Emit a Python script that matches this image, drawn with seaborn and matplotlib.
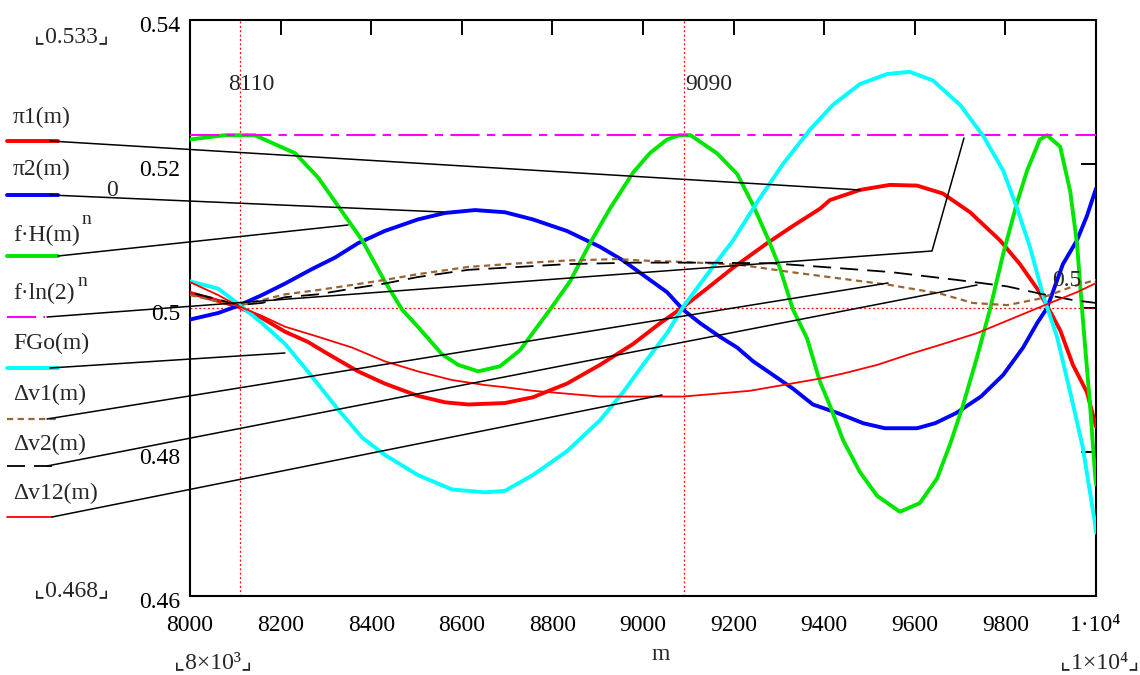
import matplotlib
matplotlib.use("Agg")
import matplotlib.pyplot as plt
import matplotlib.transforms as mtrans
from matplotlib.lines import Line2D
import seaborn as sns

# ---------------- data ----------------
m_pi1 = [8000, 8062, 8106, 8159, 8210, 8260, 8305, 8371, 8430, 8503, 8563, 8614, 8695, 8757,
         8832, 8905, 8978, 9038, 9088, 9141, 9199, 9274, 9331, 9391, 9413, 9479, 9545, 9605,
         9662, 9722, 9788, 9832, 9870, 9892, 9921, 9949, 9980, 9998, 10000]
pi1 = [0.5021, 0.5010, 0.5002, 0.4986, 0.4967, 0.4953, 0.4936, 0.4912, 0.4895, 0.4878, 0.4869,
       0.4866, 0.4868, 0.4876, 0.4895, 0.4921, 0.4950, 0.4979, 0.5001, 0.5027, 0.5056, 0.5090,
       0.5114, 0.5138, 0.5150, 0.5164, 0.5171, 0.5170, 0.5159, 0.5133, 0.5094, 0.5061, 0.5027,
       0.5003, 0.4969, 0.4921, 0.4883, 0.4840, 0.4835]

m_pi2 = [8000, 8062, 8106, 8159, 8210, 8269, 8320, 8371, 8430, 8503, 8563, 8629, 8695, 8757,
         8832, 8905, 8956, 9000, 9053, 9088, 9126, 9170, 9208, 9243, 9287, 9331, 9375, 9430,
         9486, 9534, 9605, 9645, 9691, 9746, 9795, 9839, 9870, 9892, 9927, 9958, 9980, 9998, 10000]
pi2 = [0.4984, 0.4993, 0.5003, 0.5018, 0.5034, 0.5054, 0.5070, 0.5090, 0.5107, 0.5123, 0.5132,
       0.5136, 0.5133, 0.5123, 0.5107, 0.5085, 0.5066, 0.5046, 0.5022, 0.4998, 0.4979, 0.4960,
       0.4945, 0.4926, 0.4907, 0.4888, 0.4866, 0.4854, 0.4840, 0.4833, 0.4833, 0.4840, 0.4854,
       0.4877, 0.4907, 0.4945, 0.4979, 0.5000, 0.5061, 0.5094, 0.5128, 0.5162, 0.5166]

m_fH = [8000, 8077, 8143, 8232, 8283, 8331, 8380, 8430, 8468, 8503, 8556, 8592, 8636, 8684,
        8728, 8795, 8839, 8883, 8927, 8978, 9015, 9053, 9080, 9105, 9163, 9208, 9243, 9274,
        9302, 9331, 9362, 9391, 9413, 9442, 9479, 9517, 9567, 9611, 9649, 9678, 9706, 9737,
        9766, 9795, 9826, 9848, 9876, 9892, 9921, 9943, 9958, 9971, 9987, 9998, 10000]
fH = [0.5234, 0.5240, 0.5240, 0.5215, 0.5181, 0.5138, 0.5094, 0.5037, 0.4998, 0.4974, 0.4936,
      0.4921, 0.4912, 0.4919, 0.4941, 0.4998, 0.5037, 0.5090, 0.5138, 0.5188, 0.5215, 0.5234,
      0.5240, 0.5240, 0.5215, 0.5186, 0.5143, 0.5099, 0.5056, 0.4998, 0.4958, 0.4897, 0.4864,
      0.4816, 0.4772, 0.4739, 0.4717, 0.4729, 0.4763, 0.4811, 0.4864, 0.4931, 0.4998, 0.5075,
      0.5147, 0.5191, 0.5234, 0.5240, 0.5224, 0.5162, 0.5090, 0.4984, 0.4864, 0.4768, 0.4755]

fln2_n = 0.524

m_FGo = [8000, 8062, 8106, 8159, 8210, 8269, 8327, 8380, 8430, 8503, 8578, 8651, 8695, 8757,
         8832, 8905, 8956, 9000, 9053, 9088, 9141, 9199, 9252, 9309, 9369, 9419, 9479, 9539,
         9589, 9640, 9700, 9751, 9795, 9826, 9854, 9883, 9914, 9943, 9971, 9998, 10000]
FGo = [0.5037, 0.5027, 0.5006, 0.4979, 0.4950, 0.4905, 0.4859, 0.4820, 0.4796, 0.4768, 0.4748,
       0.4744, 0.4746, 0.4768, 0.4801, 0.4844, 0.4883, 0.4921, 0.4965, 0.5001, 0.5046, 0.5094,
       0.5147, 0.5200, 0.5248, 0.5282, 0.5311, 0.5325, 0.5328, 0.5316, 0.5282, 0.5239, 0.5191,
       0.5138, 0.5085, 0.5018, 0.4960, 0.4883, 0.4806, 0.4700, 0.4688]

m_dv1 = [8000, 8062, 8106, 8159, 8210, 8283, 8358, 8430, 8503, 8614, 8724, 8834, 8945, 8993,
         9088, 9214, 9325, 9435, 9545, 9656, 9728, 9804, 9876, 9949, 10000]
dv1 = [0.5018, 0.5009, 0.5003, 0.5011, 0.5019, 0.5025, 0.5032, 0.5039, 0.5047, 0.5057, 0.5062,
       0.5066, 0.5068, 0.5066, 0.5064, 0.5060, 0.5050, 0.5041, 0.5032, 0.5020, 0.5007, 0.5004,
       0.5013, 0.5030, 0.5039]

m_dv2 = [8011, 8062, 8106, 8159, 8210, 8283, 8358, 8430, 8503, 8614, 8724, 8834, 8982, 9141,
         9287, 9397, 9545, 9693, 9804, 9876, 9949, 10000]
dv2 = [0.5020, 0.5012, 0.5004, 0.5007, 0.5015, 0.5019, 0.5027, 0.5034, 0.5043, 0.5053, 0.5057,
       0.5061, 0.5063, 0.5063, 0.5062, 0.5057, 0.5050, 0.5039, 0.5030, 0.5020, 0.5011, 0.5007]

m_dv12 = [8000, 8062, 8106, 8159, 8210, 8283, 8358, 8430, 8503, 8578, 8651, 8695, 8757, 8832,
          8905, 9088, 9163, 9236, 9309, 9391, 9442, 9517, 9589, 9662, 9737, 9810, 9883, 9958,
          9998, 10000]
dv12 = [0.5036, 0.5018, 0.5003, 0.4989, 0.4974, 0.4960, 0.4945, 0.4926, 0.4912, 0.4900, 0.4893,
        0.4890, 0.4885, 0.4881, 0.4877, 0.4877, 0.4881, 0.4885, 0.4893, 0.4902, 0.4909, 0.4921,
        0.4936, 0.4950, 0.4965, 0.4984, 0.5003, 0.5022, 0.5034, 0.5035]

marker_x = [8110, 9090]
marker_y = 0.5

x_ticks = [8000, 8200, 8400, 8600, 8800, 9000, 9200, 9400, 9600, 9800, 10000]
x_ticklabels = ["8000", "8200", "8400", "8600", "8800", "9000", "9200", "9400", "9600",
                "9800", "1·10⁴"]
y_ticks = [0.46, 0.48, 0.50, 0.52, 0.54]
y_ticklabels = ["0.46", "0.48", "0.5", "0.52", "0.54"]

legend_labels = ["π1(m)", "π2(m)", "f·H(m)", "f·ln(2)", "FGo(m)", "Δv1(m)", "Δv2(m)", "Δv12(m)"]

# ---------------- style ----------------
sns.set_style("white")
SERIF = ["Liberation Serif", "DejaVu Serif", "DejaVu Sans"]
plt.rcParams["font.family"] = SERIF
FS = 17

W, H = 1140, 675
fig = plt.figure(figsize=(W / 100, H / 100), dpi=100)
ax = fig.add_axes([190 / W, 1 - 596 / H, (1096 - 190) / W, (596 - 20) / H])

RED, BLUE, GREEN, CYAN = "#ff0000", "#0000ff", "#00e600", "#00ffff"
MAG, BROWN = "#ff00ff", "#996633"
THICK = 2.8

st_pi1 = dict(color=RED, linewidth=THICK)
st_pi2 = dict(color=BLUE, linewidth=THICK)
st_fH = dict(color=GREEN, linewidth=THICK)
st_ln = dict(color=MAG, linewidth=1.5, linestyle=(0, (14, 3.5, 4, 3.5)))
st_FGo = dict(color=CYAN, linewidth=THICK)
st_dv1 = dict(color=BROWN, linewidth=1.6, linestyle=(0, (2.8, 2.0)))
st_dv2 = dict(color="black", linewidth=1.3, linestyle=(0, (10, 5)))
st_dv12 = dict(color=RED, linewidth=1.3)

# marker lines
for mx in marker_x:
    ax.axvline(mx, color=RED, linewidth=0.9, linestyle=(0, (1.5, 2)), zorder=1)
ax.axhline(marker_y, color=RED, linewidth=0.9, linestyle=(0, (1.5, 2)), zorder=1)


def draw(xv, yv, st, z):
    sns.lineplot(x=xv, y=yv, ax=ax, estimator=None, sort=False, legend=False, zorder=z, **st)


draw(m_pi1, pi1, st_pi1, 3)
draw(m_pi2, pi2, st_pi2, 3)
draw(m_fH, fH, st_fH, 3)
draw([8000, 10000], [fln2_n, fln2_n], st_ln, 3)
draw(m_FGo, FGo, st_FGo, 3)
draw(m_dv1, dv1, st_dv1, 4)
draw(m_dv2, dv2, st_dv2, 4)
draw(m_dv12, dv12, st_dv12, 4)

ax.set_xlim(8000, 10000)
ax.set_ylim(0.46, 0.54)
ax.set_xticks(x_ticks)
ax.set_xticklabels(x_ticklabels)
ax.set_yticks(y_ticks)
ax.set_yticklabels(y_ticklabels)
ax.set_xlabel("")
ax.set_ylabel("")
ax.tick_params(direction="in", length=11, width=1.4, top=True, right=True,
               labelsize=FS, colors="black")
ax.tick_params(axis="x", pad=14)
ax.tick_params(axis="y", pad=7)
for lab in ax.get_yticklabels():
    lab.set_transform(lab.get_transform() + mtrans.ScaledTranslation(0, -0.04, fig.dpi_scale_trans))
for sp in ax.spines.values():
    sp.set_visible(True)
    sp.set_color("black")
    sp.set_linewidth(1.5)


def fx(x):
    return x / W


def fy(y):
    return 1 - y / H


def fline(xs, ys, **kw):
    fig.add_artist(Line2D([fx(v) for v in xs], [fy(v) for v in ys],
                          transform=fig.transFigure, **kw))


# legend labels and samples
label_y = [117, 169, 235, 293, 343, 394, 444, 493]
sample_y = [141, 195, 256, 317, 368, 419, 466, 517]
styles = [st_pi1, st_pi2, st_fH, st_ln, st_FGo, st_dv1, st_dv2, st_dv12]
sample_end = [58, 58, 58, 45, 58, 57, 55, 52]
for lab, ly, sy, st, se in zip(legend_labels, label_y, sample_y, styles, sample_end):
    fig.text(fx(13), fy(ly), lab, fontsize=FS, ha="left", va="center")
    fline([7, se], [sy, sy], **st)
fig.text(fx(82), fy(219), "n", fontsize=14, ha="left", va="center")
fig.text(fx(78), fy(281), "n", fontsize=14, ha="left", va="center")

# leader lines
leaders = [
    ([50, 860], [141, 190]),
    ([50, 443], [195, 212]),
    ([58, 348], [256, 225]),
    ([47, 932, 964], [317, 251, 138]),
    ([50, 285], [368, 353]),
    ([47, 888], [419, 283]),
    ([47, 977], [466, 285]),
    ([52, 662], [517, 395]),
]
for xs, ys in leaders:
    fline(xs, ys, color="black", linewidth=1.1, zorder=10)

# other texts
fig.text(fx(72), fy(37), "⌞0.533⌟", fontsize=FS, ha="center", va="center")
fig.text(fx(72), fy(591), "⌞0.468⌟", fontsize=FS, ha="center", va="center")
fig.text(fx(213), fy(663), "⌞8×10³⌟", fontsize=FS, ha="center", va="center")
fig.text(fx(1139), fy(663), "⌞1×10⁴⌟", fontsize=FS, ha="right", va="center")
fig.text(fx(228), fy(84), "8110", fontsize=FS, ha="left", va="center")
fig.text(fx(685), fy(84), "9090", fontsize=FS, ha="left", va="center")
fig.text(fx(112), fy(191), "0", fontsize=FS, ha="center", va="center")
fig.text(fx(1052), fy(281), "0.5", fontsize=FS, ha="left", va="center")
fig.text(fx(661), fy(655), "m", fontsize=FS, ha="center", va="center")

fig.savefig("out.png", dpi=100)
